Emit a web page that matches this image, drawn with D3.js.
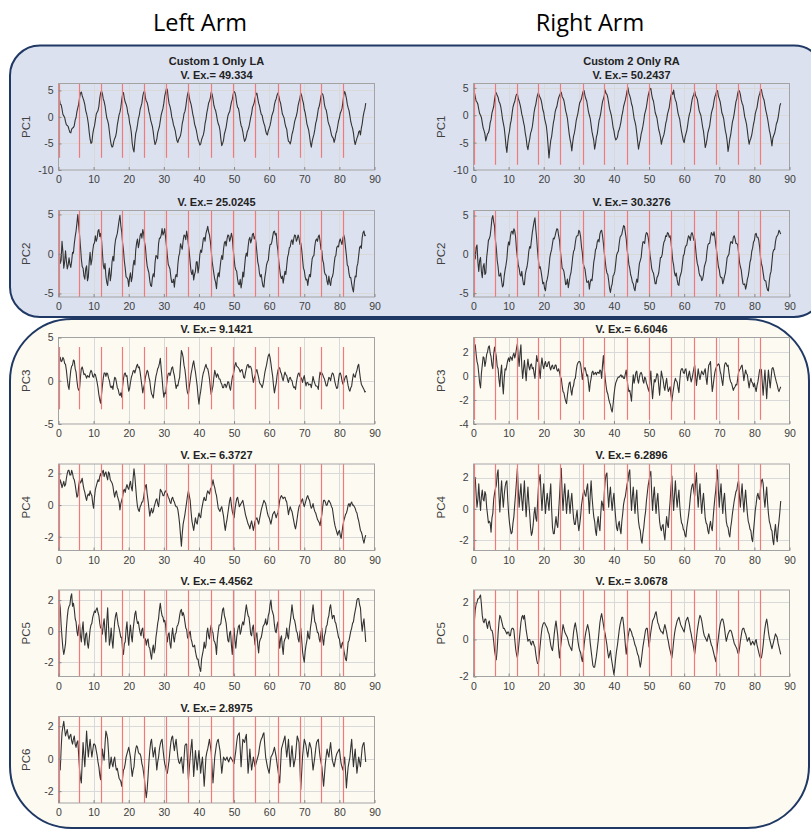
<!DOCTYPE html>
<html>
<head>
<meta charset="utf-8">
<script src="https://cdn.jsdelivr.net/npm/d3@7"></script>
<style>
  body { margin: 0; background: #fff; }
  svg text { font-family: "Liberation Sans", Arial, sans-serif; }
</style>
</head>
<body>
<div id="chart"></div>
<script>
// sample times (s): main samples every 0.5 s, plus the in-between readings
const timeCoarse = d3.range(0, 87.75, 0.5);
const timeFine = d3.range(0.25, 87.5, 0.5);

// event markers (red lines), read separately for each arm
const eventsLA = [0, 5.9, 12.1, 18.2, 24.25, 30.5, 36.8, 43.4, 49.7, 56.1, 62.5, 68.7, 74.8, 81.0];
const eventsRA = [0, 6.0, 12.25, 18.3, 24.7, 31.05, 37.3, 43.7, 50.0, 56.3, 62.7, 69.0, 75.4, 81.7];

const xTicks = [0, 10, 20, 30, 40, 50, 60, 70, 80, 90];

// left arm principal components (values at 0.0, 0.5, 1.0 ... s)
const la1 = [5.2,2.4,1.5,0.2,-0.9,-1.6,-2.4,-3.0,-2.1,-1.6,
  -0.1,1.7,3.6,4.7,3.5,2.3,0.6,-1.3,-4.2,-4.8,
  -2.3,-0.6,0.9,2.0,4.5,4.4,2.9,0.9,-0.7,-2.8,
  -5.2,-5.5,-4.1,-2.9,-0.6,0.9,3.2,4.6,2.8,1.8,
  0.2,-1.8,-5.0,-6.6,-3.1,-1.5,0.3,2.0,3.9,4.9,
  3.0,2.0,0.4,-1.2,-2.9,-5.2,-4.2,-2.4,-0.7,1.0,
  2.6,4.6,5.1,2.5,1.2,-0.6,-2.0,-3.6,-4.8,-3.9,
  -2.6,-0.5,1.0,3.2,4.8,2.9,1.5,-0.2,-1.9,-3.4,
  -4.7,-5.1,-3.8,-2.6,-0.4,1.6,3.0,4.7,3.4,1.6,
  0.4,-1.3,-2.6,-5.4,-4.4,-2.6,-0.8,0.7,1.9,3.3,
  4.8,3.9,1.8,0.7,-1.6,-2.8,-4.6,-3.7,-2.4,-1.0,
  0.6,2.2,3.6,4.5,2.6,1.2,0.3,-1.2,-2.6,-3.4,
  -2.1,-0.8,0.7,2.3,3.4,4.5,3.1,1.6,0.2,-1.2,
  -2.3,-4.6,-5.1,-3.3,-1.9,-0.3,1.0,2.9,4.5,3.2,
  1.4,-0.2,-1.9,-3.6,-5.7,-3.9,-2.4,-0.6,1.5,2.8,
  4.4,3.6,1.6,0.4,-1.4,-2.6,-3.8,-4.8,-3.2,-1.8,
  -0.2,1.1,2.8,4.8,3.5,1.7,0.2,-1.6,-3.0,-5.2,
  -4.0,-2.8,-3.4,-1.3,0.9,2.6];
const la2 = [1.8,-1.2,1.6,-1.8,0.4,-1.9,-0.5,-1.7,0.2,1.3,
  2.9,5.0,2.4,-0.6,-1.8,-3.2,-1.5,-2.9,0.2,-0.8,
  1.2,2.3,2.0,3.1,2.6,0.2,-1.9,-2.8,-4.0,-1.8,
  -2.6,-0.3,0.9,2.2,3.4,4.9,2.8,0.5,-1.8,-3.0,
  -4.1,-2.4,-2.9,-0.8,0.5,1.9,1.4,2.6,3.1,1.5,
  -0.5,-2.0,-3.4,-4.1,-2.5,-1.1,-0.3,1.3,2.0,3.2,
  2.7,2.1,-0.2,-1.6,-2.9,-3.6,-4.2,-2.6,-1.3,0.1,
  0.9,1.7,2.3,2.9,1.2,-1.1,-2.6,-3.3,-2.2,-1.0,
  -1.6,0.5,1.0,2.1,2.6,3.5,2.4,0.4,-1.7,-3.2,
  -4.4,-2.4,-1.8,-0.2,0.6,1.6,1.9,2.3,2.0,2.1,
  -0.5,-2.0,-3.2,-3.9,-4.3,-2.3,-1.6,0.1,0.9,2.1,
  1.8,2.6,2.2,0.2,-1.5,-2.9,-3.5,-4.2,-2.3,-1.0,
  0.4,1.2,2.2,2.9,2.6,0.4,-1.9,-3.1,-3.7,-2.2,
  -1.5,0.0,0.9,1.8,1.9,2.3,1.9,2.0,1.4,-0.6,
  -2.1,-3.3,-4.0,-2.6,-1.7,-0.3,1.0,1.9,2.2,1.6,
  0.4,-1.2,-2.6,-3.5,-2.8,-4.0,-2.9,-1.3,-0.2,1.0,
  1.6,1.5,2.0,1.9,-0.2,-1.6,-3.0,-3.8,-4.8,-2.8,
  -1.6,-0.2,1.0,2.1,2.9,2.4];
const la3 = [1.2,2.7,2.3,2.5,1.9,0.2,-1.0,1.2,1.8,2.3,
  1.0,-0.8,-0.9,1.4,1.2,0.8,0.3,0.5,0.9,1.0,
  0.4,0.7,-0.2,-1.6,-2.6,-0.6,0.9,0.5,0.8,0.0,
  -0.8,-1.0,0.4,-0.2,-1.0,-1.7,-1.9,0.2,0.9,0.6,
  -1.2,-0.2,0.7,1.2,1.3,1.9,1.6,0.2,-1.4,-0.4,
  0.8,1.0,0.0,-1.5,-2.0,-0.2,0.9,1.6,2.6,0.3,
  -1.9,-1.5,0.3,0.9,1.0,1.6,0.6,-0.9,-0.6,0.4,
  3.5,2.7,1.3,-0.8,-1.6,0.0,1.3,2.3,1.0,-0.6,
  -2.7,-1.2,0.4,1.2,1.9,1.4,0.2,-1.6,-0.6,1.2,
  0.4,0.6,0.2,-0.4,-0.8,-0.4,-0.5,-0.2,-1.1,0.4,
  1.2,2.1,1.6,1.3,1.2,0.9,0.3,1.4,1.9,1.7,
  1.3,-0.2,0.6,1.3,0.4,-0.4,-0.8,0.2,1.4,2.4,
  3.1,2.0,0.5,-1.4,-0.3,1.2,1.5,0.8,0.0,1.0,
  0.6,-0.2,0.4,0.0,-0.8,-1.0,0.4,0.9,0.4,-0.2,
  0.6,-0.6,-0.2,-0.4,-0.8,0.5,-0.3,-0.6,-1.0,1.0,
  0.9,0.4,-0.2,-0.6,0.4,0.0,0.9,0.4,-0.6,-0.8,
  0.8,0.6,-0.4,0.2,0.6,-0.6,-1.2,-0.6,0.8,0.4,
  1.2,1.9,0.2,-0.6,-1.0,-1.2];
const la4 = [1.4,1.6,1.1,1.5,1.3,2.0,2.2,1.9,2.0,1.6,
  0.9,0.6,1.6,1.5,1.3,0.8,0.3,0.7,0.9,0.6,
  -0.2,1.0,1.4,1.5,2.0,2.1,1.8,2.1,1.6,2.0,
  1.5,1.2,0.5,0.9,0.4,-0.3,0.3,0.9,0.8,1.3,
  1.0,1.5,0.9,2.3,1.1,-0.1,-0.4,0.0,0.2,0.9,
  1.3,0.3,-0.7,-0.2,-0.4,0.1,0.4,-0.1,1.0,0.8,
  0.6,0.9,0.7,0.4,0.1,0.5,0.2,-0.1,-0.3,-1.2,
  -2.6,-1.2,-0.6,0.2,0.9,0.3,-1.0,-1.6,-0.8,-1.2,
  -0.5,-0.8,0.0,0.5,0.3,0.9,0.7,1.1,1.6,1.1,
  0.6,-0.2,-0.4,-0.1,-0.7,-1.6,-0.9,-0.1,0.5,-0.4,
  -0.8,0.1,0.5,-0.1,0.1,0.3,-0.3,-0.8,-1.2,-1.5,
  -1.0,-1.6,-1.0,-0.8,-1.2,-0.6,-0.1,0.3,0.1,-0.5,
  -0.8,-1.2,-0.6,-0.4,-0.8,-0.5,0.3,0.6,0.4,0.5,
  0.2,-0.6,-0.1,-0.4,-1.0,-1.5,-0.8,-0.1,0.1,0.4,
  -0.1,0.3,0.6,0.3,-0.2,0.1,-0.4,-0.7,-1.0,-1.3,
  -0.6,0.3,0.2,0.0,0.3,0.1,-0.2,-1.0,-1.5,-1.9,
  -1.6,-2.1,-1.3,-0.8,-0.5,0.0,-0.1,0.2,0.0,-0.2,
  -0.5,-1.0,-1.6,-1.9,-2.4,-1.9];
const la5 = [0.6,1.5,-0.4,-1.5,-0.8,0.9,1.6,2.2,1.6,1.4,
  0.6,-0.3,0.5,-0.7,0.6,-0.9,-0.1,-1.1,0.1,0.5,
  1.1,1.2,1.5,1.0,0.2,-0.2,0.8,-0.7,1.5,-0.9,
  0.2,-1.1,0.6,1.2,0.4,-0.1,-0.4,-1.5,-0.7,0.6,
  -0.9,0.4,-0.7,0.6,1.3,0.5,0.2,-0.3,0.2,-0.5,
  -0.9,-0.5,-1.1,-1.8,-0.9,-1.1,0.0,0.8,1.8,1.0,
  0.6,0.4,-0.7,-0.1,-1.1,0.2,-0.7,-0.1,0.4,1.0,
  1.4,1.2,0.6,0.1,-0.5,0.0,-0.7,-1.0,-1.3,-1.8,
  -2.2,-2.6,-1.5,-0.7,-0.9,0.2,-0.5,0.4,-0.1,-0.7,
  -1.5,0.0,0.4,1.0,1.5,0.8,-0.1,-0.7,0.0,-1.5,
  0.2,-1.1,0.0,0.4,0.0,0.6,0.8,1.7,1.0,0.4,
  -0.3,0.4,-0.9,-0.1,-1.4,-0.5,-0.1,0.4,0.8,0.5,
  1.2,2.0,1.2,0.4,-0.1,0.6,-1.1,-0.3,-1.5,-0.5,
  0.2,-0.5,0.6,1.7,0.8,0.4,-0.1,-0.7,0.2,-1.3,
  -2.0,-0.9,0.0,-0.5,0.6,1.7,0.6,0.2,-0.1,-0.7,
  0.2,-0.9,-0.1,0.4,1.0,1.7,0.8,1.0,0.5,-0.1,
  -0.5,-1.1,-0.7,-1.5,-1.9,-0.7,-0.3,0.2,0.6,1.3,
  2.0,2.1,1.5,0.0,0.8,-0.7];
const la6 = [0.5,-0.7,1.6,2.3,1.4,1.8,1.2,1.5,0.9,1.4,
  0.7,1.1,-0.7,-1.5,1.0,-0.5,1.7,0.1,1.2,0.1,
  0.9,0.8,0.2,-0.5,-1.3,0.6,-0.1,1.7,1.2,-0.6,
  0.1,-0.5,0.1,-0.7,-0.9,-1.3,-1.7,-0.7,-0.3,0.3,
  0.7,0.1,-1.1,-0.5,0.6,0.7,0.3,0.1,-0.5,-1.3,
  -2.4,-1.1,0.5,1.2,0.1,0.7,-0.7,0.1,0.9,1.2,
  0.1,-0.5,-0.9,-0.1,1.0,1.4,0.5,1.2,0.1,-0.3,
  0.1,-0.9,0.8,0.9,-1.3,0.1,1.2,-1.1,0.5,-0.7,
  0.5,-0.9,0.1,-1.7,0.1,0.6,1.2,0.4,-1.5,0.1,
  0.9,1.2,0.5,-0.9,0.1,-0.1,0.1,-0.2,0.1,-0.1,
  -0.3,0.5,1.4,1.6,-0.5,1.2,1.0,1.5,-0.9,0.6,
  -0.7,0.1,-0.5,-0.1,0.3,1.0,1.3,1.6,0.1,-0.5,
  -0.9,0.1,0.3,0.7,0.1,-0.7,-1.5,0.6,1.0,1.4,
  0.1,1.2,-0.5,0.8,-0.5,0.1,1.4,1.0,-1.9,0.1,
  1.2,0.8,0.1,1.0,0.6,-0.7,0.1,1.0,1.2,0.1,
  -0.5,-1.7,-0.3,0.6,0.1,1.0,-0.1,-0.5,0.1,0.4,
  0.6,-0.3,-0.7,0.1,-1.8,-0.5,0.1,1.2,-0.5,0.6,
  -0.9,0.1,-0.5,0.7,1.0,-0.2];

// readings between the main samples (at 0.25, 0.75 ... s)
const la1Mid = [3.4,2.3,0.5,-0.1,-1.5,-1.8,-2.9,-2.3,-2.0,-0.6,
  1.0,2.4,4.5,4.0,3.0,1.2,-0.2,-2.9,-5.0,-3.3,
  -1.7,0.5,1.2,3.5,4.9,3.4,2.1,-0.2,-1.4,-4.2,
  -5.7,-4.6,-3.7,-1.5,0.4,1.8,4.2,3.5,2.4,0.7,
  -1.1,-3.0,-6.0,-4.6,-2.5,-0.3,1.4,2.6,4.6,3.6,
  2.7,1.0,-0.6,-1.8,-4.3,-4.8,-3.0,-1.8,0.4,1.6,
  3.9,5.4,3.6,2.0,0.0,-1.5,-2.6,-4.5,-4.2,-3.5,
  -1.2,0.6,1.9,4.2,3.7,2.4,0.5,-1.3,-2.5,-4.3,
  -5.3,-4.3,-3.4,-1.2,0.8,2.6,3.6,4.3,2.2,1.2,
  -0.6,-1.7,-4.2,-5.0,-3.2,-1.9,0.2,1.0,2.8,4.3,
  4.6,2.6,1.6,-0.7,-2.0,-3.9,-4.3,-2.8,-1.9,-0.1,
  1.8,2.7,4.3,3.5,2.1,0.5,-0.6,-1.7,-3.2,-2.6,
  -1.6,0.2,1.2,3.0,4.1,3.9,2.6,0.6,-0.2,-1.9,
  -3.7,-4.7,-4.4,-2.7,-0.9,0.2,2.2,3.5,4.0,2.6,
  0.8,-1.3,-2.5,-4.9,-4.6,-3.3,-1.2,0.4,2.0,3.9,
  4.3,2.3,1.3,-0.8,-1.8,-3.4,-4.0,-4.2,-2.7,-0.8,
  0.7,1.6,4.1,4.3,2.4,1.2,-0.9,-2.1,-4.4,-4.6,
  -3.6,-2.6,-2.1,0.0,1.5];
const la2Mid = [0.4,-0.8,0.3,-1.0,-0.9,-1.4,-1.3,-0.9,0.1,2.2,
  3.9,3.6,1.0,-1.6,-2.8,-1.9,-3.4,-1.0,-1.4,0.4,
  1.4,1.6,2.9,2.2,1.8,-1.4,-1.2,-3.6,-2.6,-3.4,
  -1.0,-0.9,1.8,2.6,4.2,3.6,1.4,-0.9,-2.9,-3.2,
  -3.0,-3.5,-1.5,-1.4,1.4,0.8,2.3,2.0,2.6,0.9,
  -1.5,-2.4,-4.0,-3.0,-2.9,-0.2,-0.6,2.0,2.4,2.4,
  3.2,1.0,-1.3,-1.9,-3.6,-3.2,-3.0,-2.9,-0.3,1.3,
  0.6,2.4,1.8,2.2,0.2,-2.2,-2.0,-2.6,-1.0,-2.4,
  -0.1,0.2,1.9,1.6,3.0,2.8,1.6,-0.9,-2.5,-3.6,
  -3.0,-2.9,-0.8,-0.7,1.4,1.0,2.4,1.6,2.6,0.6,
  -1.6,-2.2,-3.8,-3.2,-3.6,-2.9,-0.4,-0.3,1.8,1.4,
  2.5,1.9,1.4,-1.0,-2.5,-2.6,-4.1,-3.0,-1.4,-0.8,
  1.2,1.5,2.8,2.4,1.2,-1.0,-2.8,-2.8,-2.9,-2.6,
  -0.4,0.8,1.6,1.2,2.4,1.6,2.4,1.2,0.6,-1.8,
  -2.9,-3.2,-3.1,-2.9,-0.6,-0.2,1.7,1.6,2.4,0.6,
  -0.8,-2.3,-2.7,-3.9,-3.6,-3.1,-2.4,-0.4,0.8,0.9,
  1.9,1.2,2.4,0.8,-1.4,-2.5,-3.0,-4.4,-3.6,-2.9,
  -1.2,0.8,0.7,2.7,2.3];
const la3Mid = [2.2,2.2,2.7,2.0,1.2,-0.6,0.2,1.7,2.4,1.4,
  0.0,-1.1,0.4,1.6,0.7,0.6,0.6,0.4,1.2,0.5,
  0.8,0.3,-0.8,-2.2,-1.6,0.3,0.9,0.9,0.3,-0.6,
  -0.6,-0.2,0.3,-0.8,-1.5,-1.4,-0.7,0.8,0.5,-0.4,
  -0.9,0.4,1.1,0.9,1.7,1.5,1.0,-0.6,-0.8,0.4,
  1.2,0.4,-0.9,-1.7,-1.0,0.5,1.4,2.0,1.4,-1.0,
  -1.4,-0.6,0.8,0.6,1.5,1.0,-0.2,-0.5,0.0,2.0,
  3.2,1.8,0.4,-1.4,-0.7,0.8,1.9,1.6,0.2,-1.8,
  -1.8,-0.4,0.9,1.6,1.5,0.9,-0.8,-1.1,0.4,0.8,
  0.8,0.2,-0.2,-0.8,-0.4,-0.8,-0.1,-0.8,-0.3,0.7,
  1.8,1.7,1.5,1.0,1.3,0.4,0.9,1.8,1.5,1.6,
  0.4,0.3,1.1,0.8,-0.2,-0.5,-0.4,0.9,1.8,2.9,
  2.7,1.2,-0.6,-0.8,0.6,1.5,1.0,0.3,0.6,0.7,
  0.1,0.3,0.1,-0.5,-0.7,-0.2,0.8,0.5,0.2,0.3,
  -0.1,-0.2,-0.5,-0.4,-0.2,0.0,-0.6,-0.7,0.2,0.7,
  0.7,0.2,-0.6,-0.1,0.3,0.6,0.8,-0.2,-0.9,0.1,
  0.9,0.0,-0.2,0.5,0.0,-1.0,-0.8,0.2,0.5,0.9,
  1.7,1.0,-0.4,-0.8,-1.3];
const la4Mid = [1.2,1.4,1.3,1.2,1.7,2.2,1.9,2.2,1.7,1.3,
  0.5,1.2,1.4,1.7,1.0,0.5,0.6,0.6,0.7,0.1,
  0.5,1.2,1.6,1.8,1.8,2.2,2.0,1.8,2.1,1.6,
  1.4,0.8,0.8,0.6,0.2,0.1,0.5,1.0,1.1,1.1,
  1.3,1.1,1.7,1.8,0.4,-0.3,-0.1,0.2,0.5,1.2,
  0.7,-0.2,-0.4,-0.5,-0.1,0.3,0.1,0.4,0.9,0.6,
  0.8,0.8,0.5,0.2,0.4,0.3,0.0,-0.1,-0.7,-1.9,
  -1.8,-0.9,-0.2,0.6,0.6,-0.4,-1.3,-1.2,-1.1,-0.8,
  -0.7,-0.3,0.3,0.3,0.7,0.8,1.0,1.3,1.3,0.8,
  0.2,-0.3,-0.2,-0.4,-1.2,-1.2,-0.5,0.3,0.0,-0.6,
  -0.3,0.4,0.2,0.0,0.2,0.0,-0.6,-1.0,-1.3,-1.2,
  -1.3,-1.3,-0.9,-1.0,-0.9,-0.3,0.1,0.2,-0.2,-0.7,
  -1.0,-0.9,-0.5,-0.6,-0.6,-0.1,0.5,0.5,0.5,0.3,
  -0.2,-0.3,-0.3,-0.7,-1.3,-1.2,-0.4,0.0,0.3,0.1,
  0.1,0.5,0.4,0.0,-0.1,-0.2,-0.5,-0.9,-1.1,-0.9,
  -0.1,0.3,0.0,0.2,0.2,-0.1,-0.6,-1.3,-1.7,-1.7,
  -1.9,-1.7,-1.0,-0.6,-0.3,0.1,0.1,0.0,-0.1,-0.4,
  -0.8,-1.3,-1.7,-2.2,-2.1];
const la5Mid = [1.9,0.4,-1.1,-1.2,0.2,1.4,1.7,2.4,1.8,0.8,
  0.0,0.3,-0.3,0.1,-0.4,-0.2,-0.8,-0.5,0.4,0.9,
  1.3,1.4,1.2,0.5,0.2,0.4,0.0,0.6,0.3,-0.5,
  -0.6,-0.2,1.0,0.8,0.2,-0.4,-1.2,-0.8,0.1,-0.3,
  -0.1,-0.3,0.1,1.1,0.8,0.6,-0.1,0.1,-0.4,-0.5,
  -0.6,-1.0,-1.5,-1.2,-1.4,-0.4,0.5,1.4,1.3,0.9,
  0.7,-0.3,-0.2,-0.8,-0.3,-0.4,-0.2,0.3,0.6,1.3,
  1.0,1.0,0.2,-0.4,-0.1,-0.5,-1.0,-0.9,-1.6,-1.8,
  -2.4,-1.8,-1.2,-1.1,-0.1,-0.3,0.1,0.0,-0.6,-0.9,
  -0.5,0.4,0.5,1.4,1.0,0.5,-0.6,-0.1,-0.9,-0.4,
  -0.6,-0.4,0.3,-0.2,0.4,0.4,1.3,1.3,0.9,-0.2,
  0.2,-0.4,-0.3,-0.9,-0.7,-0.4,0.3,0.5,0.4,1.0,
  1.7,1.4,1.0,0.0,0.4,-0.4,-0.5,-1.0,-0.7,-0.4,
  -0.3,0.2,1.1,1.2,0.7,0.0,-0.5,-0.1,-0.5,-1.7,
  -1.3,-0.6,-0.4,0.2,1.2,1.1,0.5,-0.1,-0.5,-0.1,
  -0.5,-0.3,0.3,0.8,1.5,1.2,1.0,0.6,0.2,-0.4,
  -0.9,-0.8,-1.2,-1.8,-1.3,-0.6,0.0,0.5,1.0,1.6,
  2.1,1.7,0.6,0.5,0.1];
const la6Mid = [-0.2,0.6,2.0,1.8,1.6,1.4,1.4,1.1,1.2,0.9,
  1.0,0.2,-1.2,-0.2,0.2,0.6,0.8,0.7,0.6,0.5,
  0.9,0.5,-0.2,-1.0,-0.4,0.2,0.9,1.5,0.4,-0.3,
  -0.3,-0.1,-0.4,-0.6,-1.2,-1.4,-1.2,-0.6,0.1,0.5,
  0.4,-0.6,-0.7,0.2,0.8,0.4,0.3,-0.3,-0.9,-1.9,
  -1.9,-0.2,1.0,0.6,0.4,0.0,-0.2,0.6,1.1,0.6,
  -0.3,-0.8,-0.5,0.5,1.3,0.9,0.9,0.6,-0.2,-0.1,
  -0.4,0.0,0.9,-0.2,-0.6,0.7,0.1,-0.3,-0.1,-0.1,
  -0.2,-0.3,-0.8,-0.8,0.4,0.9,0.8,-0.6,-0.7,0.5,
  1.1,0.8,-0.2,-0.4,0.0,0.0,-0.1,0.0,0.0,-0.2,
  0.1,1.0,1.5,0.6,0.4,1.1,1.3,0.3,-0.2,-0.1,
  -0.3,-0.2,-0.3,0.1,0.7,1.2,1.5,0.8,-0.2,-0.7,
  -0.4,0.2,0.5,0.4,-0.3,-1.1,-0.4,0.8,1.2,0.7,
  0.6,0.3,0.2,0.1,-0.2,0.8,1.2,-0.4,-0.9,0.7,
  1.0,0.4,0.6,0.8,-0.1,-0.3,0.6,1.1,0.6,-0.2,
  -1.1,-1.0,0.2,0.3,0.6,0.4,-0.3,-0.2,0.3,0.5,
  0.1,-0.5,-0.3,-0.8,-1.1,-0.2,0.7,0.3,0.1,-0.2,
  -0.4,-0.2,0.1,0.9,0.4];

// right arm principal components (values at 0.0, 0.5, 1.0 ... s)
const ra1 = [4.5,3.4,2.4,1.1,0.0,-1.4,-2.8,-4.7,-3.4,-2.6,
  -0.8,1.0,2.9,4.1,3.3,2.2,0.6,-1.5,-3.8,-6.8,
  -3.7,-1.6,0.4,2.1,3.3,3.9,2.6,1.2,-0.4,-2.0,
  -4.2,-6.3,-4.4,-2.8,-0.9,1.4,3.0,4.1,3.2,2.0,
  0.5,-1.3,-3.5,-7.8,-4.6,-2.6,-0.6,1.2,2.5,3.6,
  4.2,3.1,1.8,0.2,-2.0,-4.4,-6.5,-3.8,-2.2,-0.3,
  1.4,2.6,3.8,4.5,3.0,1.6,0.0,-1.8,-3.8,-6.2,
  -4.0,-2.2,-0.4,1.5,3.0,4.6,3.8,2.2,0.6,-1.0,
  -2.8,-4.5,-4.0,-2.6,-1.2,0.6,2.2,3.6,5.0,3.6,
  2.1,0.5,-1.2,-3.3,-6.2,-4.5,-2.8,-1.0,0.8,2.6,
  4.2,4.9,3.0,1.6,0.0,-1.6,-3.2,-5.3,-4.0,-2.6,
  -0.9,0.8,2.6,4.2,4.6,2.8,1.4,-0.2,-2.0,-3.8,
  -5.0,-3.4,-1.8,0.2,1.8,3.4,4.4,3.3,1.9,0.4,
  -1.0,-2.9,-5.9,-4.4,-2.6,-0.8,1.0,2.6,3.8,4.5,
  3.0,1.5,0.0,-1.8,-3.6,-6.6,-4.3,-2.4,-0.6,1.4,
  3.0,4.6,3.8,2.2,0.8,-0.9,-2.8,-5.3,-4.2,-2.6,
  -0.9,0.9,2.5,3.9,4.7,3.2,1.8,0.2,-1.6,-3.4,
  -5.6,-3.7,-2.6,-1.2,0.6,2.2];
const ra2 = [2.5,-0.6,1.2,-2.2,-0.4,-3.0,-1.2,-2.4,0.6,2.0,
  3.4,5.0,3.6,0.8,-1.6,-2.8,-3.4,-4.0,-2.0,-0.6,
  1.6,2.3,3.0,3.3,2.2,-0.4,-1.8,-2.8,-3.2,-3.9,
  -2.0,-0.8,1.0,1.8,3.5,4.7,2.0,-0.8,-1.6,-3.0,
  -3.6,-4.7,-3.2,-1.6,0.2,1.4,2.0,2.9,3.2,1.8,
  -0.6,-1.9,-3.0,-3.8,-4.3,-2.8,-1.5,0.4,1.5,2.4,
  3.1,2.3,0.2,-1.6,-2.8,-3.6,-4.5,-3.2,-2.3,-0.4,
  0.8,1.9,2.6,3.1,1.4,-0.8,-2.4,-3.4,-4.9,-3.8,
  -2.6,-1.2,0.2,1.4,2.4,3.2,3.6,2.0,-0.2,-1.8,
  -3.0,-3.8,-4.7,-3.2,-2.3,-0.8,0.8,1.6,2.4,2.7,
  1.3,-0.8,-2.2,-3.1,-3.8,-2.8,-1.4,-0.4,1.0,1.8,
  2.3,2.7,2.4,0.4,-1.4,-2.8,-3.3,-4.0,-2.6,-1.2,
  0.0,1.1,1.9,2.2,2.6,2.4,2.0,-0.4,-1.6,-2.8,
  -3.4,-2.6,-1.2,0.4,1.4,2.2,2.6,2.9,1.2,-0.6,
  -2.0,-3.0,-3.8,-2.8,-1.4,-0.2,1.0,1.6,2.2,2.0,
  1.4,0.2,-1.6,-3.0,-3.9,-4.5,-3.2,-2.0,-0.6,0.8,
  1.8,2.7,2.2,0.9,-1.2,-2.4,-3.4,-4.2,-4.7,-2.6,
  -1.0,0.6,1.6,2.4,3.1,2.6];
const ra3 = [1.8,2.6,1.2,0.2,-1.0,0.9,1.5,1.2,2.0,2.5,
  1.6,0.6,2.4,1.6,0.6,-0.9,0.9,-1.5,0.6,0.9,
  1.5,1.6,1.3,1.9,1.8,2.7,0.8,2.6,-0.2,1.3,
  -0.4,1.4,0.5,1.0,0.7,-0.2,1.7,1.4,-0.2,1.5,
  0.6,1.2,0.8,1.2,0.5,0.9,0.6,0.9,0.4,0.3,
  -0.2,-1.3,-1.8,-2.3,-1.0,-0.5,-1.6,-0.8,-0.2,0.9,
  1.2,1.0,-0.3,0.6,0.4,0.1,-1.3,-0.2,0.4,0.2,
  0.1,0.3,0.5,-0.2,1.7,-0.2,-1.3,-1.9,-2.4,-3.0,
  -1.6,-0.6,-0.2,-0.1,0.1,0.0,-0.2,0.5,-0.9,-1.2,
  -2.1,0.1,-0.2,0.4,-0.6,0.2,0.1,-0.6,-0.2,-0.8,
  -1.3,0.4,-1.9,-0.3,-0.2,0.1,-1.6,0.4,-0.3,-1.2,
  -0.2,-1.3,-0.9,-2.1,-1.0,-0.2,-0.5,-1.4,0.4,0.6,
  0.2,0.6,-0.4,0.4,-0.5,0.2,0.9,-0.8,0.6,-0.3,
  0.4,0.1,0.6,-0.7,0.9,1.2,-1.3,-0.2,0.6,0.9,
  0.9,0.1,-0.8,0.9,1.05,0.9,-0.2,-0.6,-1.2,-0.9,
  -0.75,0.3,0.6,0.9,-0.4,0.5,0.1,-1.0,-0.2,-0.6,
  -0.6,-1.3,-0.5,0.5,0.5,-1.6,0.5,-1.9,0.5,-1.0,
  0.6,0.5,-0.2,-0.75,-1.3,-0.9];
const ra4 = [1.4,2.0,0.1,1.6,-0.1,1.2,0.5,0.9,-0.4,-0.8,
  -1.5,-0.3,1.0,1.5,2.5,-0.2,1.8,0.1,1.4,1.8,
  -0.3,-1.3,-1.5,-0.5,1.0,2.6,0.1,1.6,-0.1,1.8,
  -0.5,1.4,-0.3,-1.7,-1.0,0.1,-0.8,1.4,2.2,-0.1,
  1.6,-0.3,1.0,-0.1,1.6,-1.2,-1.6,-0.5,-1.2,0.8,
  2.6,-0.1,1.6,-0.3,1.2,-0.3,1.0,-0.6,-1.0,-0.1,
  -1.4,-0.5,0.6,1.2,0.8,1.6,-0.3,1.8,0.1,-0.8,
  -1.7,-0.5,-1.4,0.5,-0.1,1.8,2.3,0.1,1.4,-0.1,
  1.0,-0.6,-1.4,-0.8,-1.6,-0.3,0.6,1.2,1.8,2.5,
  -0.1,1.4,-0.3,1.2,-0.8,-1.4,-2.2,-1.2,-0.2,1.0,
  1.8,2.4,-0.1,1.4,-0.3,1.0,-0.8,-1.4,-1.0,-2.0,
  -0.5,-1.2,0.5,2.1,-0.1,1.8,0.1,1.2,-0.5,-1.0,
  -1.4,-1.8,-0.8,0.1,1.2,1.6,0.8,2.3,0.1,1.6,
  -0.3,1.0,-0.6,-1.0,-1.6,-0.8,-1.4,0.1,1.2,2.5,
  0.1,1.6,-0.3,1.0,-0.8,-1.2,-1.8,-0.8,0.1,0.8,
  1.2,1.8,0.1,1.6,-0.2,1.2,-0.3,-1.0,-1.4,-2.1,
  -0.8,0.3,1.0,0.6,1.8,1.6,0.1,1.4,-0.3,-1.0,
  -1.4,-2.3,-1.0,-2.1,-0.8,0.5];
const ra5 = [0.3,1.6,2.0,2.2,2.4,1.3,0.9,1.1,0.6,1.0,
  0.5,0.3,-0.6,-1.1,0.3,1.3,1.0,0.6,0.5,0.3,
  0.4,0.2,0.6,0.5,-0.5,-1.0,-0.1,0.9,1.3,1.3,
  0.5,-0.1,0.0,-0.3,-0.1,-0.4,-1.1,-1.3,-0.3,0.6,
  0.9,0.8,0.6,0.3,-0.3,-0.6,0.3,1.0,0.2,-1.0,
  -0.1,0.8,0.4,0.2,-0.1,-0.4,-0.6,0.4,0.9,0.3,
  -0.4,-0.7,-1.2,-0.3,0.4,0.8,0.3,-0.6,-1.4,-1.5,
  -0.9,-0.1,0.9,1.4,0.8,0.3,-0.3,-1.0,-0.6,-1.3,
  -1.9,-1.0,-0.3,0.5,1.0,1.2,0.3,-0.8,0.1,0.6,
  0.4,0.1,-0.3,-0.6,-0.9,-1.5,-0.8,-0.1,0.5,0.6,
  -0.4,0.4,1.0,1.2,1.5,0.9,0.6,0.4,0.3,0.8,
  0.4,-0.1,-0.6,-1.0,-0.1,0.6,1.0,1.2,0.8,0.6,
  0.4,1.0,1.2,0.8,0.3,-0.2,-0.8,0.1,0.8,1.3,
  1.0,0.4,0.1,-0.1,0.3,-0.1,-0.4,-0.8,-1.2,-0.3,
  0.5,1.0,1.1,0.6,-0.1,0.3,0.5,0.4,0.0,-0.3,
  -0.5,-0.8,-0.1,0.5,0.6,0.3,-0.1,0.1,-0.3,-0.1,
  -0.3,0.0,-0.5,-0.9,-1.0,-0.3,0.6,1.1,0.4,-0.1,
  -0.5,-0.1,0.3,0.1,-0.4,-0.8];

// readings between the main samples (at 0.25, 0.75 ... s)
const ra1Mid = [4.2,2.6,2.0,0.3,-0.4,-2.3,-3.4,-4.0,-3.2,-1.4,
  0.4,1.6,3.8,3.6,2.5,1.6,-0.6,-2.3,-5.6,-5.0,
  -2.9,-0.9,1.5,2.5,3.8,3.0,2.0,0.2,-1.3,-3.3,
  -5.6,-5.2,-3.3,-2.1,0.5,2.0,3.7,3.5,2.8,1.0,
  -0.6,-2.0,-5.6,-6.0,-3.9,-1.4,0.6,1.6,3.2,4.0,
  3.4,2.7,0.8,-0.6,-3.4,-5.2,-5.0,-3.2,-1.0,0.4,
  2.3,3.0,4.4,3.6,2.6,0.6,-0.6,-3.0,-4.6,-5.3,
  -3.4,-1.0,0.4,2.5,3.6,4.0,3.2,1.2,0.0,-2.2,
  -3.9,-4.3,-3.0,-2.0,-0.1,1.6,2.8,4.5,4.0,3.0,
  1.6,-0.6,-2.0,-4.8,-5.2,-3.4,-2.0,0.2,1.5,3.6,
  4.8,3.8,2.6,0.5,-0.5,-2.6,-4.0,-4.5,-3.5,-1.5,
  0.2,1.4,3.6,3.8,3.4,2.4,0.4,-0.8,-3.0,-4.6,
  -4.0,-2.8,-0.6,0.7,2.8,3.8,3.6,2.9,0.9,0.0,
  -2.1,-4.3,-5.3,-3.2,-2.0,0.4,1.5,3.4,4.4,3.5,
  2.5,0.4,-0.6,-2.9,-4.8,-5.6,-3.6,-1.2,0.3,2.5,
  4.0,4.4,2.8,1.8,-0.3,-1.6,-4.2,-4.6,-3.6,-1.6,
  0.3,1.4,3.4,4.5,3.8,2.8,0.9,-0.6,-2.7,-4.4,
  -4.2,-3.3,-1.6,-0.5,1.7];
const ra2Mid = [0.6,0.9,-1.0,-0.8,-2.2,-1.6,-2.6,-0.4,1.8,2.4,
  4.6,4.2,1.8,-0.8,-2.8,-2.4,-4.2,-2.8,-1.4,0.9,
  1.2,2.9,2.6,3.0,0.6,-1.4,-2.6,-2.2,-3.9,-2.6,
  -1.6,0.4,0.8,2.8,4.2,3.2,0.4,-1.8,-2.2,-3.8,
  -4.4,-3.6,-2.6,-0.4,0.6,2.1,2.4,3.3,2.4,0.4,
  -1.8,-2.2,-3.9,-3.2,-3.6,-2.4,-0.4,0.6,2.2,2.4,
  2.9,1.0,-1.2,-1.9,-3.6,-3.4,-3.6,-3.4,-1.0,0.6,
  1.6,1.6,3.0,2.4,0.2,-1.8,-2.6,-4.4,-4.2,-2.8,
  -2.2,-0.1,0.4,2.2,2.6,3.7,2.8,0.6,-1.3,-2.6,
  -3.6,-4.4,-3.8,-3.6,-1.2,-0.4,1.6,1.4,2.8,2.2,
  0.0,-1.8,-2.4,-3.8,-3.0,-2.4,-0.4,0.0,1.6,2.4,
  2.8,2.2,1.6,-0.8,-2.4,-2.4,-3.9,-3.0,-2.2,-0.2,
  0.8,1.2,2.4,1.8,2.8,1.8,0.8,-1.2,-2.4,-2.8,
  -3.2,-1.6,-0.8,1.2,1.4,2.8,2.4,2.2,0.4,-1.6,
  -2.8,-3.0,-3.4,-2.4,-0.4,0.0,1.6,1.4,2.4,1.4,
  1.2,-1.0,-2.0,-3.8,-3.8,-4.0,-2.8,-1.0,0.4,1.6,
  2.6,2.2,1.8,-0.4,-1.6,-3.2,-3.4,-4.6,-3.4,-2.2,
  0.2,0.6,2.2,2.6,2.9];
const ra3Mid = [2.4,1.8,0.9,-0.6,0.2,1.6,0.8,1.8,2.4,1.9,
  0.9,1.8,2.0,0.8,-0.3,0.2,-0.6,-0.2,0.5,1.3,
  1.2,1.5,1.7,1.5,2.3,1.6,1.9,0.8,0.6,0.4,
  0.7,0.8,0.9,0.6,0.2,0.8,1.2,0.5,0.9,0.9,
  1.0,0.8,1.1,0.7,0.8,0.6,0.9,0.5,0.6,-0.1,
  -0.8,-1.4,-2.1,-1.6,-0.6,-1.2,-1.0,-0.3,0.4,1.1,
  1.2,0.4,0.2,0.7,0.0,-0.6,-0.6,0.3,0.1,0.3,
  0.3,0.2,0.4,0.9,0.6,-0.8,-1.5,-2.2,-2.8,-2.4,
  -1.0,-0.4,-0.1,0.0,-0.1,-0.2,0.2,-0.3,-1.3,-1.6,
  -0.8,-0.6,0.3,-0.3,-0.1,0.3,-0.4,-0.1,-0.6,-1.1,
  -0.4,-0.9,-1.0,-0.5,0.2,-0.8,-0.6,0.0,-0.9,-0.6,
  -0.9,-1.1,-1.6,-1.5,-0.5,-0.4,-1.0,-0.4,0.6,0.3,
  0.5,0.0,0.1,-0.1,-0.2,0.6,0.0,-0.1,0.1,0.1,
  0.2,0.4,-0.2,0.2,1.0,-0.2,-0.8,0.3,0.8,1.0,
  0.4,-0.4,0.1,1.1,0.8,0.3,-0.5,-0.9,-1.0,-0.7,
  -0.2,0.5,0.8,0.3,0.1,0.2,-0.5,-0.5,-0.5,-0.9,
  -1.0,-0.8,0.0,0.6,-0.6,-0.5,-0.7,-0.6,-0.3,-0.2,
  0.7,0.1,-0.5,-1.1,-1.1];
const ra4Mid = [1.8,0.9,0.6,0.6,0.8,0.6,1.1,0.1,-0.9,-0.9,
  -0.6,0.6,1.3,2.2,0.9,0.9,0.8,0.9,1.7,0.6,
  -0.9,-1.6,-0.9,0.3,1.8,1.2,0.9,0.6,0.9,0.5,
  0.5,0.4,-1.2,-1.5,-0.3,-0.6,0.4,1.9,0.9,0.9,
  0.5,0.5,0.4,0.9,0.0,-1.6,-1.0,-1.0,-0.2,1.9,
  1.0,0.9,0.6,0.6,0.4,0.5,0.1,-1.0,-0.5,-0.9,
  -1.0,0.2,1.0,0.9,1.3,0.6,0.9,0.8,-0.5,-1.4,
  -0.9,-1.1,-0.3,0.3,1.0,2.2,1.0,0.9,0.5,0.6,
  0.1,-1.2,-1.0,-1.3,-0.8,0.3,0.8,1.6,2.3,1.0,
  0.8,0.4,0.6,0.0,-1.2,-2.0,-1.6,-0.6,0.5,1.5,
  2.2,1.0,0.8,0.4,0.5,0.0,-1.2,-1.1,-1.6,-1.2,
  -1.0,-0.2,1.4,0.9,0.9,0.8,0.7,0.2,-0.9,-1.3,
  -1.7,-1.2,-0.4,0.7,1.5,1.1,1.7,1.0,1.0,0.5,
  0.5,0.2,-0.9,-1.4,-1.1,-1.2,-0.6,0.7,1.9,1.1,
  1.0,0.5,0.6,0.0,-1.1,-1.6,-1.2,-0.3,0.5,1.1,
  1.6,0.8,0.9,0.6,0.6,0.4,-0.8,-1.3,-1.9,-1.4,
  -0.1,0.8,0.7,1.3,1.9,0.7,0.8,0.4,-0.8,-1.3,
  -2.0,-1.5,-1.7,-1.3,-0.2];
const ra5Mid = [1.0,1.9,2.2,2.3,1.9,1.0,1.1,0.8,0.9,0.7,
  0.5,-0.1,-0.9,-0.5,0.9,1.2,0.8,0.6,0.4,0.4,
  0.2,0.5,0.6,0.0,-0.8,-0.6,0.4,1.2,1.1,0.9,
  0.2,0.0,-0.2,-0.1,-0.3,-0.8,-1.3,-0.8,0.2,0.8,
  0.9,0.7,0.4,0.0,-0.5,-0.2,0.7,0.6,-0.5,-0.5,
  0.4,0.6,0.3,0.1,-0.3,-0.5,-0.1,0.7,0.6,-0.1,
  -0.6,-1.0,-0.8,0.1,0.6,0.6,-0.2,-1.0,-1.5,-1.2,
  -0.5,0.4,1.2,1.1,0.5,0.0,-0.7,-0.8,-1.0,-1.6,
  -1.5,-0.6,0.1,0.8,1.2,0.8,-0.3,-0.4,0.4,0.5,
  0.2,-0.1,-0.4,-0.8,-1.2,-1.2,-0.4,0.2,0.6,0.1,
  0.0,0.7,1.1,1.4,1.2,0.8,0.5,0.4,0.6,0.6,
  0.1,-0.4,-0.8,-0.6,0.3,0.8,1.1,1.0,0.7,0.5,
  0.7,1.1,1.0,0.5,0.0,-0.5,-0.4,0.5,1.1,1.2,
  0.7,0.2,0.0,0.1,0.1,-0.3,-0.6,-1.0,-0.8,0.1,
  0.8,1.1,0.9,0.2,0.1,0.4,0.5,0.2,-0.2,-0.4,
  -0.7,-0.5,0.2,0.6,0.4,0.1,0.0,-0.1,-0.2,-0.2,
  -0.1,-0.3,-0.7,-1.0,-0.7,0.2,0.9,0.8,0.1,-0.3,
  -0.3,0.1,0.2,-0.2,-0.6];

const seriesLA = [[la1, la1Mid], [la2, la2Mid], [la3, la3Mid], [la4, la4Mid], [la5, la5Mid], [la6, la6Mid]];
const seriesRA = [[ra1, ra1Mid], [ra2, ra2Mid], [ra3, ra3Mid], [ra4, ra4Mid], [ra5, ra5Mid]];
const varExLA = ["49.334", "25.0245", "9.1421", "6.3727", "4.4562", "2.8975"];
const varExRA = ["50.2437", "30.3276", "6.6046", "6.2896", "3.0678"];
const yLimLA = [[-10, 6.3], [-5.45, 5.5], [-5, 5], [-2.87, 2.6], [-2.92, 2.65], [-2.73, 2.6]];
const yLimRA = [[-10, 5.8], [-5.5, 5.65], [-4, 3.2], [-2.67, 2.87], [-2, 2.67]];
const yTicksLA = [[-10, -5, 0, 5], [-5, 0, 5], [-5, 0, 5], [-2, 0, 2], [-2, 0, 2], [-2, 0, 2]];
const yTicksRA = [[-10, -5, 0, 5], [-5, 0, 5], [-4, -2, 0, 2], [-2, 0, 2], [-2, 0, 2]];
// value range covered by the event lines (null = whole axis)
const eventSpanLA = [[-7.7, null], null, [-3.3, 3.9], null, null, null];
const eventSpanRA = [[-9.05, null], null, [-3.65, null], null, null];

// ---- layout ----
const width = 811, height = 831;
const colLeft = { LA: 58.5, RA: 473.5 };
const plotW = 316;
const rowTop = [83.5, 210.5, 337.5, 464, 590, 716.5];
const plotH = 86.5;

const svg = d3.select("#chart").append("svg")
    .attr("width", width)
    .attr("height", height);

// column headings
svg.selectAll("text.arm")
  .data([["Left Arm", 200], ["Right Arm", 590]])
  .join("text")
    .attr("class", "arm")
    .attr("x", (d) => d[1])
    .attr("y", 31)
    .attr("text-anchor", "middle")
    .style("font-family", "'Open Sans', sans-serif")
    .style("font-size", "23.5px")
    .attr("fill", "#000")
    .text((d) => d[0]);

// background boxes
svg.append("rect")
    .attr("x", 10).attr("y", 45.5)
    .attr("width", 814).attr("height", 271.5)
    .attr("rx", 30)
    .attr("fill", "#dbe1ef")
    .attr("stroke", "#1f3864")
    .attr("stroke-width", 2);
svg.append("rect")
    .attr("x", 10).attr("y", 319)
    .attr("width", 799).attr("height", 509)
    .attr("rx", 62)
    .attr("fill", "#fdfaf2")
    .attr("stroke", "#1f3864")
    .attr("stroke-width", 2);

const samples = (coarse, fine) => d3.sort([
  ...coarse.map((v, i) => [timeCoarse[i], v]),
  ...fine.map((v, i) => [timeFine[i], v])
].filter((d) => d[0] !== undefined), (d) => d[0]);

function drawPanel(arm, row, pair, opts) {
  const x0 = colLeft[arm];
  const top = rowTop[row];
  const x = d3.scaleLinear().domain([0, 90]).range([x0, x0 + plotW]);
  const y = d3.scaleLinear().domain(opts.yLim).range([top + plotH, top]);
  const g = svg.append("g").attr("class", `pc ${arm}-${row + 1}`);

  // grid
  g.append("g").selectAll("line")
    .data(xTicks.slice(1, -1))
    .join("line")
      .attr("x1", (d) => Math.round(x(d)) + 0.5).attr("x2", (d) => Math.round(x(d)) + 0.5)
      .attr("y1", top).attr("y2", top + plotH)
      .attr("stroke", "#d9d9d9")
      .attr("stroke-width", 1);
  g.append("g").selectAll("line")
    .data(opts.yTicks.filter((t) => y(t) > top + 1 && y(t) < top + plotH - 1))
    .join("line")
      .attr("x1", x0).attr("x2", x0 + plotW)
      .attr("y1", (d) => Math.round(y(d)) + 0.5).attr("y2", (d) => Math.round(y(d)) + 0.5)
      .attr("stroke", "#d9d9d9")
      .attr("stroke-width", 1);

  // trace
  g.append("path")
    .datum(samples(pair[0], pair[1]))
    .attr("d", d3.line().x((d) => x(d[0])).y((d) => y(d[1])))
    .attr("fill", "none")
    .attr("stroke", "#333")
    .attr("stroke-width", 1.1)
    .attr("stroke-linejoin", "round");

  // event lines
  const span = opts.eventSpan || [null, null];
  const lo = span[0] === null ? opts.yLim[0] : span[0];
  const hi = span[1] === null ? opts.yLim[1] : span[1];
  g.append("g").selectAll("line")
    .data(opts.events)
    .join("line")
      .attr("x1", (d) => Math.round(x(d)) + 0.5).attr("x2", (d) => Math.round(x(d)) + 0.5)
      .attr("y1", y(hi)).attr("y2", y(lo))
      .attr("stroke", "#f07a7a")
      .attr("stroke-width", 1.2);

  // box
  g.append("rect")
    .attr("x", x0).attr("y", top)
    .attr("width", plotW).attr("height", plotH)
    .attr("fill", "none")
    .attr("stroke", "#a3a3a3")
    .attr("stroke-width", 1);

  // axes
  const fmt = (d) => String(d);
  const xAxis = g.append("g")
      .attr("transform", `translate(0,${top + plotH})`)
      .call(d3.axisBottom(x).tickValues(xTicks).tickFormat(fmt).tickSize(-3).tickPadding(6));
  const yAxis = g.append("g")
      .attr("transform", `translate(${x0},0)`)
      .call(d3.axisLeft(y).tickValues(opts.yTicks).tickFormat(fmt).tickSize(-3).tickPadding(5));
  [xAxis, yAxis].forEach((a) => {
    a.select(".domain").remove();
    a.selectAll(".tick line").attr("stroke", "#8a8a8a");
    a.selectAll(".tick text")
      .attr("fill", "#404040")
      .style("font-size", "10.5px");
  });

  // titles
  const cx = x0 + plotW / 2;
  if (opts.heading) {
    g.append("text")
      .attr("x", cx).attr("y", top - 19)
      .attr("text-anchor", "middle")
      .style("font-size", "11px").style("font-weight", "bold")
      .attr("fill", "#222")
      .text(opts.heading);
  }
  g.append("text")
    .attr("x", cx).attr("y", top - 5)
    .attr("text-anchor", "middle")
    .style("font-size", "11px").style("font-weight", "bold")
    .attr("fill", "#222")
    .text(`V. Ex.= ${opts.varEx}`);

  g.append("text")
    .attr("transform", `translate(${x0 - 29},${top + plotH / 2}) rotate(-90)`)
    .attr("text-anchor", "middle")
    .style("font-size", "11.5px")
    .attr("fill", "#404040")
    .text(`PC${row + 1}`);
}

seriesLA.forEach((pair, i) => {
  drawPanel("LA", i, pair, {
    yLim: yLimLA[i], yTicks: yTicksLA[i], events: eventsLA,
    eventSpan: eventSpanLA[i], varEx: varExLA[i],
    heading: i === 0 ? "Custom 1 Only LA" : null
  });
});
seriesRA.forEach((pair, i) => {
  drawPanel("RA", i, pair, {
    yLim: yLimRA[i], yTicks: yTicksRA[i], events: eventsRA,
    eventSpan: eventSpanRA[i], varEx: varExRA[i],
    heading: i === 0 ? "Custom 2 Only RA" : null
  });
});
</script>
</body>
</html>
